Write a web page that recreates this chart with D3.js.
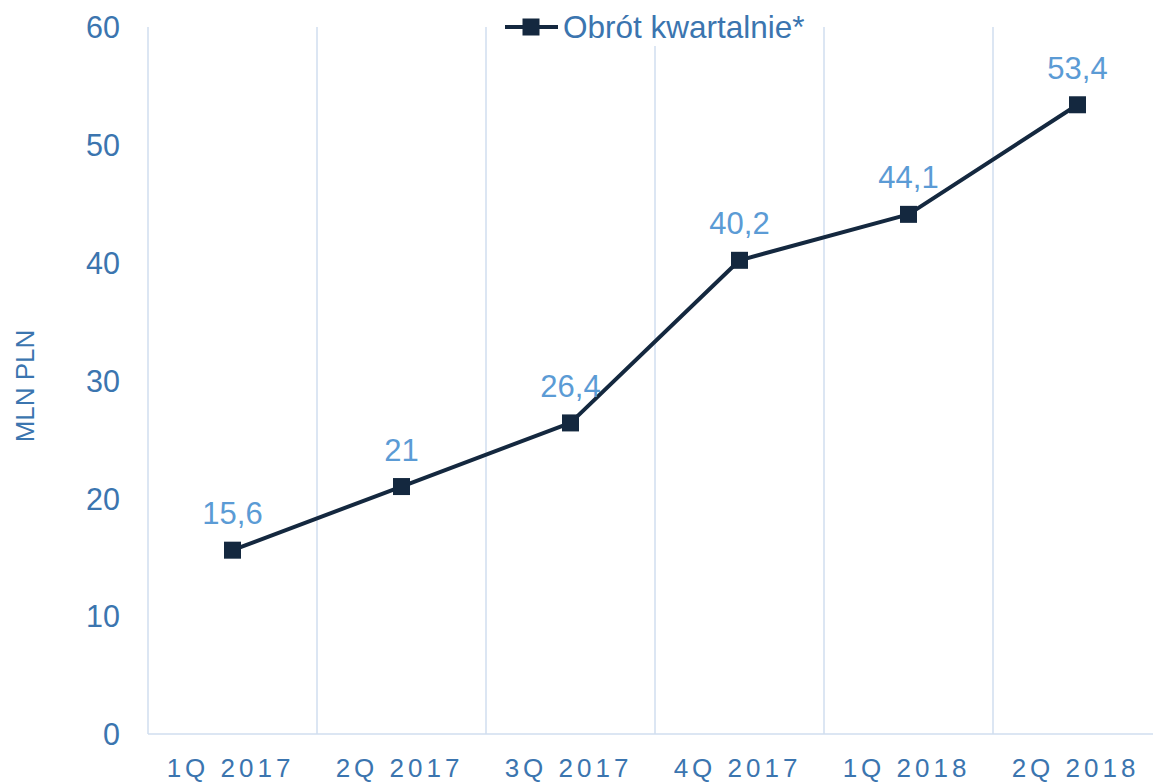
<!DOCTYPE html>
<html><head><meta charset="utf-8">
<script src="https://cdn.jsdelivr.net/npm/d3@7"></script>
<style>body{margin:0;background:#fff}svg{display:block;font-family:"Liberation Sans",Arial,sans-serif}</style>
</head><body>
<svg id="c" width="1153" height="782"></svg>
<script>
const categories = ["1Q 2017","2Q 2017","3Q 2017","4Q 2017","1Q 2018","2Q 2018"];
const values = [15.6, 21, 26.4, 40.2, 44.1, 53.4];
const valueLabels = ["15,6","21","26,4","40,2","44,1","53,4"];
const yTicks = [0,10,20,30,40,50,60];
const seriesName = "Obrót kwartalnie*";
const yTitle = "MLN PLN";

const svg = d3.select("#c");
const m = {left:148, top:27, bottom:734};
const bandW = 169;
const x = d3.scaleBand().domain(categories).range([m.left, m.left + bandW*categories.length]).padding(0);
const y = d3.scaleLinear().domain([0,60]).range([m.bottom, m.top]);

const grid = "#D0DEEF", tickCol = "#3B75AF", lineCol = "#14283F", labCol = "#5B9BD5";

// vertical gridlines at category boundaries
const edges = categories.map(c => x(c)).concat([x.range()[1]]);
svg.append("g").selectAll("line").data(edges).join("line")
  .attr("x1", d=>d).attr("x2", d=>d).attr("y1", y(60)).attr("y2", y(0))
  .attr("stroke", grid).attr("stroke-width", 1.5);
// bottom axis line
svg.append("line").attr("x1", x.range()[0]).attr("x2", x.range()[1])
  .attr("y1", y(0)).attr("y2", y(0)).attr("stroke", grid).attr("stroke-width", 1.5);

// y axis
const yAxis = d3.axisLeft(y).tickValues(yTicks).tickSize(0).tickPadding(28);
const gy = svg.append("g").attr("transform", `translate(${m.left},0)`).call(yAxis);
gy.select(".domain").remove();
gy.selectAll("text").attr("fill", tickCol).style("font-size","30.5px").attr("dy","0.35em");

// x axis
const xAxis = d3.axisBottom(x).tickSize(0).tickPadding(0);
const gx = svg.append("g").attr("transform", `translate(0,${y(0)})`).call(xAxis);
gx.select(".domain").remove();
gx.selectAll("text").attr("fill", tickCol).style("font-size","26px")
  .style("letter-spacing","4px").attr("dy","0").attr("y", 43).attr("dx","-2px");

// y title
svg.append("text").attr("transform","translate(34,386) rotate(-90)")
  .attr("text-anchor","middle").attr("fill", tickCol).style("font-size","26px").text(yTitle);

// line
const cx = d => x(d.c) + x.bandwidth()/2;
const pts = categories.map((c,i)=>({c, v:values[i], l:valueLabels[i]}));
svg.append("path").datum(pts)
  .attr("d", d3.line().x(cx).y(d=>y(d.v)))
  .attr("fill","none").attr("stroke", lineCol).attr("stroke-width", 4).attr("stroke-linejoin","round");
const ms = 17;
svg.append("g").selectAll("rect").data(pts).join("rect")
  .attr("x", d=>cx(d)-ms/2).attr("y", d=>y(d.v)-ms/2).attr("width", ms).attr("height", ms)
  .attr("fill", lineCol);
svg.append("g").selectAll("text").data(pts).join("text")
  .attr("x", cx).attr("y", d=>y(d.v)-26).attr("text-anchor","middle")
  .attr("fill", labCol).style("font-size","31px").text(d=>d.l);

// legend
const lg = svg.append("g");
lg.append("rect").attr("x", 497).attr("y", 10).attr("width", 318).attr("height", 36).attr("fill","#fff");
lg.append("line").attr("x1", 505).attr("x2", 558).attr("y1", 27).attr("y2", 27)
  .attr("stroke", lineCol).attr("stroke-width", 4);
lg.append("rect").attr("x", 531-ms/2).attr("y", 27-ms/2).attr("width", ms).attr("height", ms).attr("fill", lineCol);
lg.append("text").attr("x", 563).attr("y", 38).attr("fill", tickCol).style("font-size","31.5px").text(seriesName);
</script>
</body></html>
